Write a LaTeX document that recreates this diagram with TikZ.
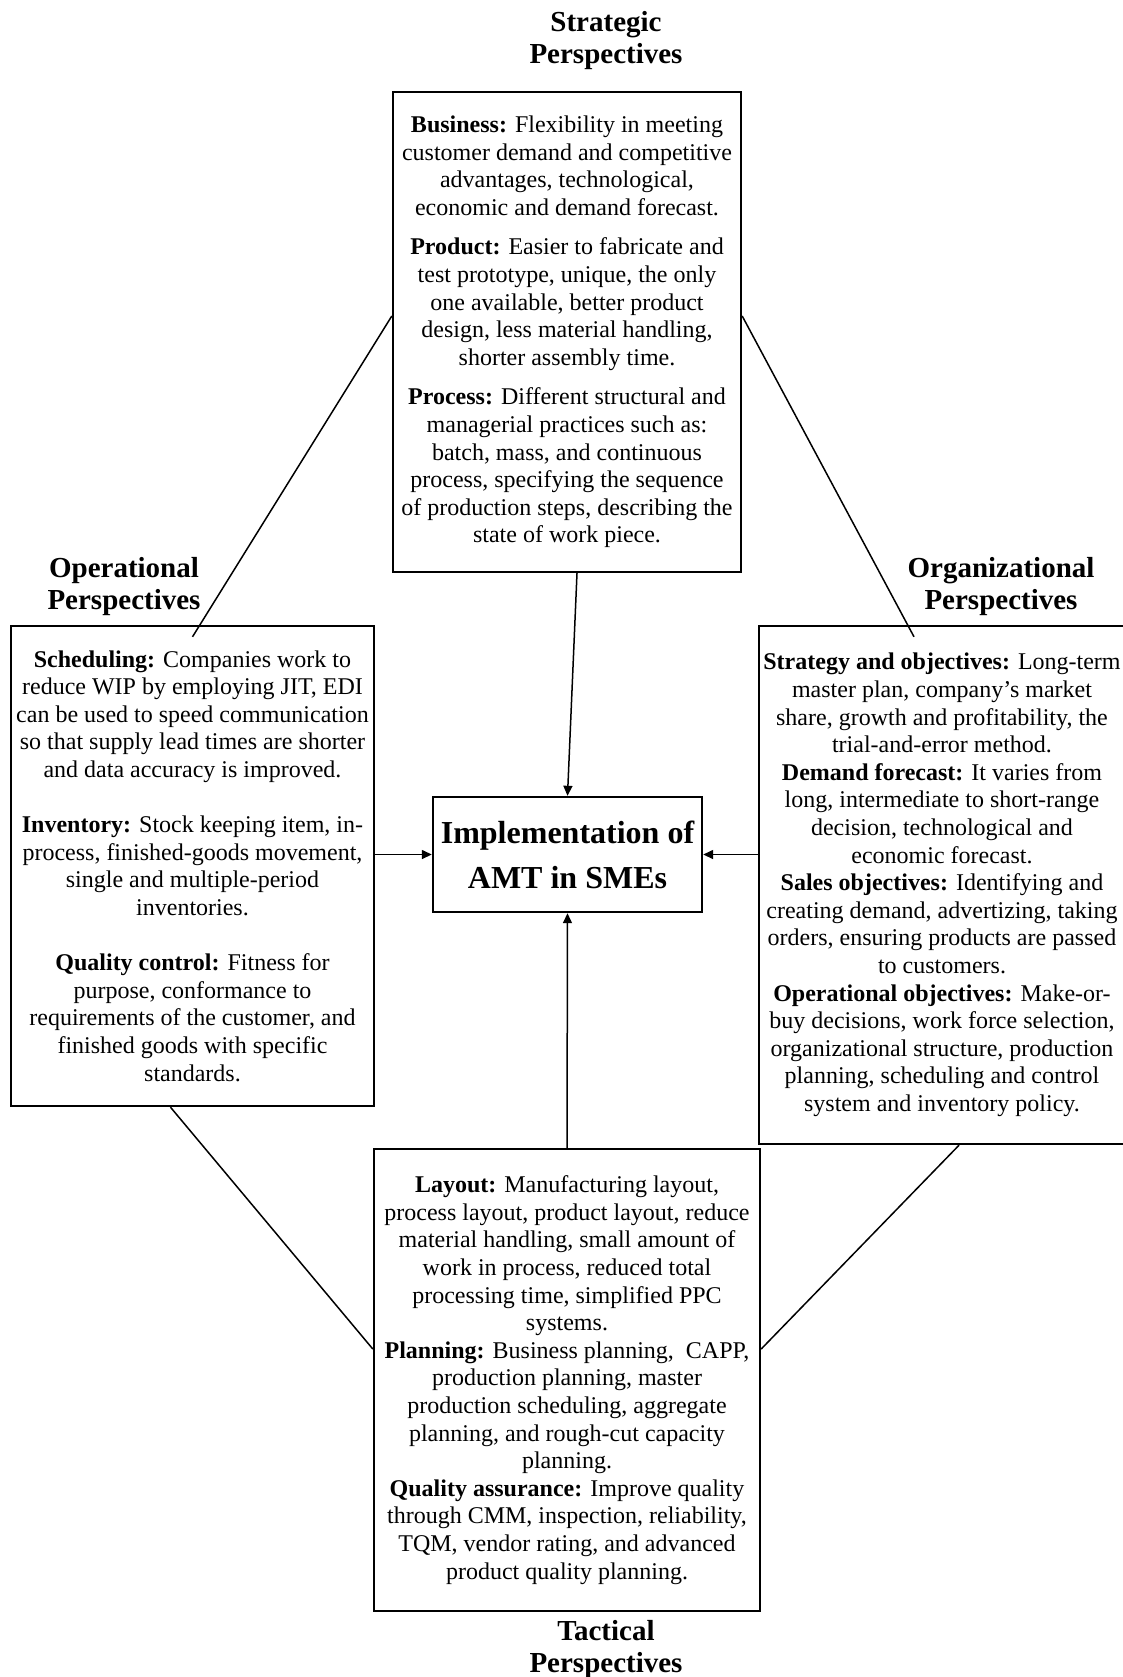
\documentclass[tikz,border=0pt]{standalone}
\usepackage{fontspec}
\setmainfont{Liberation Serif}
\usetikzlibrary{arrows.meta}

\begin{document}
\begin{tikzpicture}[x=0.5pt,y=-0.5pt,
	box/.style={draw, line width=1.2pt, align=center, inner sep=0pt, font=\fontsize{12}{13.8}\selectfont},
	head/.style={align=center, inner sep=0pt, font=\fontsize{14.5}{16}\selectfont\bfseries},
	link/.style={line width=0.75pt},
	arr/.style={line width=0.75pt, -{Triangle[length=5pt,width=4.5pt]}}]
	\useasboundingbox (0,0) rectangle (1123,1677);

	\node[head] (stratHead) at (606,41) {Strategic\\Perspectives};
	\node[head] (operHead) at (124,587) {Operational\\Perspectives};
	\node[head] (orgnHead) at (1001,587) {Organizational\\Perspectives};
	\node[head] (tactHead) at (606,1650) {Tactical\\Perspectives};

	\node[box, minimum width=174pt, minimum height=240pt] (strat) at (567,332) {
		\textbf{Business:} Flexibility in meeting\\
		customer demand and competitive\\
		advantages, technological,\\
		economic and demand forecast.\\[6pt]
		\textbf{Product:} Easier to fabricate and\\
		test prototype, unique, the only\\
		one available, better product\\
		design, less material handling,\\
		shorter assembly time.\\[6pt]
		\textbf{Process:} Different structural and\\
		managerial practices such as:\\
		batch, mass, and continuous\\
		process, specifying the sequence\\
		of production steps, describing the\\
		state of work piece.};

	\node[box, minimum width=181.5pt, minimum height=240pt] (oper) at (192.5,866) {
		\textbf{Scheduling:} Companies work to\\
		reduce WIP by employing JIT, EDI\\
		can be used to speed communication\\
		so that supply lead times are shorter\\
		and data accuracy is improved.\\[13.8pt]
		\textbf{Inventory:} Stock keeping item, in-\\
		process, finished-goods movement,\\
		single and multiple-period\\
		inventories.\\[13.8pt]
		\textbf{Quality control:} Fitness for\\
		purpose, conformance to\\
		requirements of the customer, and\\
		finished goods with specific\\
		standards.};

	\node[box, minimum width=183pt, minimum height=259pt] (orgn) at (942,885) {
		\textbf{Strategy and objectives:} Long-term\\
		master plan, company's market\\
		share, growth and profitability, the\\
		trial-and-error method.\\
		\textbf{Demand forecast:} It varies from\\
		long, intermediate to short-range\\
		decision, technological and\\
		economic forecast.\\
		\textbf{Sales objectives:} Identifying and\\
		creating demand, advertizing, taking\\
		orders, ensuring products are passed\\
		to customers.\\
		\textbf{Operational objectives:} Make-or-\\
		buy decisions, work force selection,\\
		organizational structure, production\\
		planning, scheduling and control\\
		system and inventory policy.};

	\node[box, minimum width=193pt, minimum height=231pt] (tact) at (567,1380) {
		\textbf{Layout:} Manufacturing layout,\\
		process layout, product layout, reduce\\
		material handling, small amount of\\
		work in process, reduced total\\
		processing time, simplified PPC\\
		systems.\\
		\textbf{Planning:} Business planning, \ CAPP,\\
		production planning, master\\
		production scheduling, aggregate\\
		planning, and rough-cut capacity\\
		planning.\\
		\textbf{Quality assurance:} Improve quality\\
		through CMM, inspection, reliability,\\
		TQM, vendor rating, and advanced\\
		product quality planning.};

	\node[box, minimum width=134.5pt, minimum height=57.5pt, font=\fontsize{16}{22.5}\selectfont\bfseries] (impl) at (567.5,854.5) {Implementation of\\AMT in SMEs};

	\draw[arr] ([xshift=5pt]strat.south) -- (impl.north);
	\draw[arr] (oper.east |- impl.west) -- (impl.west);
	\draw[arr] (orgn.west |- impl.east) -- (impl.east);
	\draw[arr] (tact.north) -- (impl.south);

	\draw[link] ([yshift=8pt]strat.west) -- ([yshift=-6pt]oper.north);
	\draw[link] ([yshift=8pt]strat.east) -- ([xshift=-14pt,yshift=-6pt]orgn.north);
	\draw[link] ([xshift=-11pt]oper.south) -- ([yshift=15.5pt]tact.west);
	\draw[link] ([xshift=8.5pt]orgn.south) -- ([yshift=15.5pt]tact.east);
\end{tikzpicture}
\end{document}
